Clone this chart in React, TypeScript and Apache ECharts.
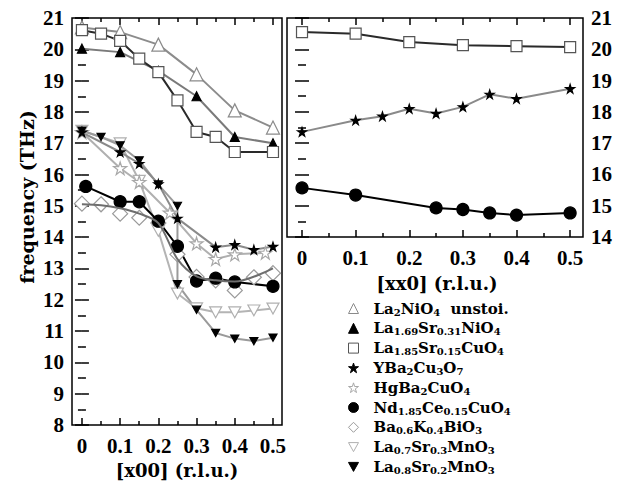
import React, { useEffect, useRef } from 'react';
import * as echarts from 'echarts';

// ---------- data ----------
const xMajor = [0, 0.1, 0.2, 0.3, 0.4, 0.5];
const xMinor = [0.05, 0.15, 0.25, 0.35, 0.45];

const NAMES = [
  'La2NiO4 unstoi.',
  'La1.69Sr0.31NiO4',
  'La1.85Sr0.15CuO4',
  'YBa2Cu3O7',
  'HgBa2CuO4',
  'Nd1.85Ce0.15CuO4',
  'Ba0.6K0.4BiO3',
  'La0.7Sr0.3MnO3',
  'La0.8Sr0.2MnO3',
];
const RICH_NAMES = [
  '{m|La}{s|2}{m|NiO}{s|4}{m|  unstoi.}',
  '{m|La}{s|1.69}{m|Sr}{s|0.31}{m|NiO}{s|4}',
  '{m|La}{s|1.85}{m|Sr}{s|0.15}{m|CuO}{s|4}',
  '{m|YBa}{s|2}{m|Cu}{s|3}{m|O}{s|7}',
  '{m|HgBa}{s|2}{m|CuO}{s|4}',
  '{m|Nd}{s|1.85}{m|Ce}{s|0.15}{m|CuO}{s|4}',
  '{m|Ba}{s|0.6}{m|K}{s|0.4}{m|BiO}{s|3}',
  '{m|La}{s|0.7}{m|Sr}{s|0.3}{m|MnO}{s|3}',
  '{m|La}{s|0.8}{m|Sr}{s|0.2}{m|MnO}{s|3}',
];

// left panel [x00]
const la2NiX = [0, 0.1, 0.2, 0.3, 0.4, 0.5];
const la2NiY = [20.7, 20.55, 20.15, 19.2, 18.05, 17.5];
const la169X = [0, 0.1, 0.2, 0.3, 0.4, 0.5];
const la169Y = [20.02, 19.91, 19.31, 18.5, 17.2, 17.0];
const la185X = [0, 0.05, 0.1, 0.15, 0.2, 0.25, 0.3, 0.35, 0.4, 0.5];
const la185Y = [20.61, 20.5, 20.27, 19.7, 19.27, 18.37, 17.36, 17.2, 16.72, 16.72];
const ybcoX = [0, 0.1, 0.15, 0.2, 0.25, 0.35, 0.4, 0.45, 0.5];
const ybcoY = [17.35, 16.72, 16.35, 15.7, 14.6, 13.68, 13.76, 13.6, 13.7];
const hgX = [0, 0.1, 0.15, 0.23, 0.3, 0.35, 0.4, 0.48];
const hgY = [17.35, 16.2, 15.76, 14.78, 13.8, 13.3, 13.45, 13.5];
const ndX = [0.01, 0.1, 0.15, 0.2, 0.25, 0.3, 0.35, 0.4, 0.5];
const ndY = [15.62, 15.13, 15.13, 14.51, 13.71, 12.6, 12.69, 12.57, 12.43];
const bkX = [0, 0.05, 0.1, 0.15, 0.2, 0.25, 0.3, 0.35, 0.4, 0.45, 0.5];
const bkY = [15.07, 15.05, 14.75, 14.62, 14.45, 13.45, 12.73, 12.62, 12.3, 12.72, 12.85];
const bkFitX = [0, 0.05, 0.1, 0.15, 0.2, 0.25, 0.3, 0.35, 0.4, 0.5];
const bkFitY = [15.05, 15.02, 14.92, 14.75, 14.45, 13.3, 12.75, 12.62, 12.58, 13.0];
const la07X = [0, 0.1, 0.15, 0.2, 0.25, 0.3, 0.35, 0.4, 0.45, 0.5];
const la07Y = [17.4, 17.0, 15.8, 14.2, 12.2, 11.73, 11.6, 11.6, 11.66, 11.72];
const la08X = [0, 0.05, 0.1, 0.15, 0.2, 0.25, 0.25, 0.3, 0.35, 0.4, 0.45, 0.5];
const la08Y = [17.4, 17.2, 16.93, 16.45, 15.68, 15.0, 12.5, 11.68, 10.94, 10.76, 10.68, 10.79];

// right panel [xx0]
const la185RX = [0, 0.1, 0.2, 0.3, 0.4, 0.5];
const la185RY = [20.55, 20.5, 20.23, 20.13, 20.1, 20.07];
const ybcoRX = [0, 0.1, 0.15, 0.2, 0.25, 0.3, 0.35, 0.4, 0.5];
const ybcoRY = [17.36, 17.73, 17.86, 18.1, 17.95, 18.16, 18.56, 18.42, 18.74];
const ndRX = [0, 0.1, 0.25, 0.3, 0.35, 0.4, 0.5];
const ndRY = [15.57, 15.34, 14.93, 14.88, 14.77, 14.7, 14.77];

// ---------- styling ----------
const STAR = 'path://M50,2 L61,37 L98,37 L68,59 L79,95 L50,73 L21,95 L32,59 L2,37 L39,37 Z';
const DOWN = 'path://M0,0 L20,0 L10,18 Z';
const SERIF = 'DejaVu Serif';
const NUMF = 'Liberation Serif';

type Sty = { symbol: string; size: number; fill: string; border: string; line: string };
const STY: Sty[] = [
  { symbol: 'triangle', size: 13, fill: '#fff', border: '#8a8a8a', line: '#8c8c8c' },
  { symbol: 'triangle', size: 9, fill: '#000', border: '#000', line: '#7a7a7a' },
  { symbol: 'rect', size: 11, fill: '#fff', border: '#555', line: '#2a2a2a' },
  { symbol: STAR, size: 9, fill: '#000', border: '#000', line: '#8a8a8a' },
  { symbol: STAR, size: 13, fill: '#fff', border: '#a8a8a8', line: '#b0b0b0' },
  { symbol: 'circle', size: 12, fill: '#000', border: '#000', line: '#000' },
  { symbol: 'diamond', size: 15, fill: '#fff', border: '#9a9a9a', line: '#6e6e6e' },
  { symbol: DOWN, size: 12, fill: '#fff', border: '#b0b0b0', line: '#b4b4b4' },
  { symbol: DOWN, size: 8, fill: '#000', border: '#000', line: '#9a9a9a' },
];

function zip(xs: number[], ys: number[]) {
  return xs.map((x, i) => [x, ys[i]]);
}

function mk(idx: number, xs: number[], ys: number[], panel: 0 | 1, showLine = true, name?: string) {
  const s = STY[idx];
  return {
    type: 'line',
    name: name ?? NAMES[idx],
    xAxisIndex: panel === 0 ? 0 : 4,
    yAxisIndex: panel === 0 ? 0 : 2,
    data: zip(xs, ys),
    symbol: s.symbol,
    symbolSize: s.size,
    symbolKeepAspect: true,
    showSymbol: true,
    lineStyle: { color: s.line, width: showLine ? 2 : 0, opacity: showLine ? 1 : 0 },
    itemStyle: { color: s.fill, borderColor: s.border, borderWidth: 1.2 },
    emphasis: { disabled: true },
    silent: true,
    z: 2,
  };
}

function fitLine(idx: number, xs: number[], ys: number[]) {
  const s = STY[idx];
  return {
    type: 'line',
    name: 'fit-' + idx,
    xAxisIndex: 0,
    yAxisIndex: 0,
    data: zip(xs, ys),
    symbol: 'none',
    smooth: 0.3,
    lineStyle: { color: s.line, width: 2 },
    silent: true,
    z: 3,
  };
}

const tickStyle = { color: '#000', width: 1.5 };

function xAxes(grid: number, min: number, max: number) {
  const base = { type: 'value', gridIndex: grid, min, max, axisLine: { show: false }, splitLine: { show: false } };
  return [
    {
      ...base,
      position: 'bottom',
      axisTick: { show: true, inside: true, length: 7, lineStyle: tickStyle, customValues: xMajor },
      axisLabel: {
        show: true,
        customValues: xMajor,
        margin: 10,
        fontFamily: NUMF,
        fontWeight: 'bold',
        fontSize: 21,
        color: '#000',
        formatter: (v: number) => (Math.abs(v) < 1e-9 ? '0' : (Math.round(v * 10) / 10).toFixed(1)),
      },
    },
    {
      ...base,
      position: 'bottom',
      axisTick: { show: true, inside: true, length: 4, lineStyle: tickStyle, customValues: xMinor },
      axisLabel: { show: false },
    },
    {
      ...base,
      position: 'top',
      axisTick: { show: true, inside: true, length: 7, lineStyle: tickStyle, customValues: xMajor },
      axisLabel: { show: false },
    },
    {
      ...base,
      position: 'top',
      axisTick: { show: true, inside: true, length: 4, lineStyle: tickStyle, customValues: xMinor },
      axisLabel: { show: false },
    },
  ];
}

function yAxes(grid: number, min: number, max: number, labelSide: 'left' | 'right') {
  const other = labelSide === 'left' ? 'right' : 'left';
  const base = {
    type: 'value',
    gridIndex: grid,
    min,
    max,
    interval: 1,
    axisLine: { show: false },
    splitLine: { show: false },
    axisTick: { show: true, inside: true, length: 7, lineStyle: tickStyle },
    minorTick: { show: true, splitNumber: 2, length: 4, lineStyle: tickStyle },
    minorSplitLine: { show: false },
  };
  return [
    {
      ...base,
      position: labelSide,
      axisLabel: {
        show: true,
        margin: 8,
        fontFamily: NUMF,
        fontWeight: 'bold',
        fontSize: 21,
        color: '#000',
      },
    },
    { ...base, position: other, axisLabel: { show: false } },
  ];
}

export default function App() {
  const ref = useRef<HTMLDivElement>(null);

  useEffect(() => {
    if (!ref.current) return;
    const chart = echarts.init(ref.current, null, { renderer: 'svg' });

    const legendData = NAMES.map((n, i) => ({
      name: n,
      icon: STY[i].symbol,
      itemStyle: { color: STY[i].fill, borderColor: STY[i].border, borderWidth: 1 },
    }));

    const option: any = {
      animation: false,
      backgroundColor: '#fff',
      grid: [
        { left: 72, top: 18, width: 210, height: 407, show: true, borderColor: '#000', borderWidth: 1.5, backgroundColor: 'transparent' },
        { left: 287, top: 18, width: 296, height: 219, show: true, borderColor: '#000', borderWidth: 1.5, backgroundColor: 'transparent' },
      ],
      xAxis: [...xAxes(0, -0.026, 0.5236), ...xAxes(1, -0.028, 0.524)],
      yAxis: [...yAxes(0, 8, 21, 'left'), ...yAxes(1, 14, 21, 'right')],
      legend: {
        show: true,
        orient: 'vertical',
        left: 343,
        top: 296,
        itemWidth: 10,
        itemHeight: 10,
        itemGap: 3.8,
        selectedMode: false,
        data: legendData,
        formatter: (name: string) => RICH_NAMES[NAMES.indexOf(name)] ?? name,
        textStyle: {
          color: '#000',
          fontFamily: SERIF,
          fontWeight: 'bold',
          fontSize: 15,
          padding: [0, 0, 0, 10],
          rich: {
            m: { fontFamily: SERIF, fontWeight: 'bold', fontSize: 15, lineHeight: 17, color: '#000' },
            s: { fontFamily: SERIF, fontWeight: 'bold', fontSize: 10, lineHeight: 5, verticalAlign: 'bottom', color: '#000' },
          },
        },
      },
      graphic: [
        {
          type: 'text',
          x: 27,
          y: 197,
          rotation: Math.PI / 2,
          silent: true,
          style: {
            text: 'frequency (THz)',
            fontFamily: SERIF,
            fontWeight: 'bold',
            fontSize: 19,
            fill: '#000',
            align: 'center',
            verticalAlign: 'middle',
          },
        },
        {
          type: 'text',
          x: 177,
          y: 470,
          silent: true,
          style: {
            text: '[x00] (r.l.u.)',
            fontFamily: SERIF,
            fontWeight: 'bold',
            fontSize: 18,
            fill: '#000',
            align: 'center',
            verticalAlign: 'middle',
          },
        },
        {
          type: 'text',
          x: 437,
          y: 283,
          silent: true,
          style: {
            text: '[xx0] (r.l.u.)',
            fontFamily: SERIF,
            fontWeight: 'bold',
            fontSize: 18,
            fill: '#000',
            align: 'center',
            verticalAlign: 'middle',
          },
        },
      ],
      series: [
        mk(0, la2NiX, la2NiY, 0),
        mk(1, la169X, la169Y, 0),
        mk(2, la185X, la185Y, 0),
        mk(6, bkX, bkY, 0, false),
        fitLine(6, bkFitX, bkFitY),
        mk(7, la07X, la07Y, 0),
        mk(4, hgX, hgY, 0),
        mk(8, la08X, la08Y, 0),
        mk(3, ybcoX, ybcoY, 0),
        mk(5, ndX, ndY, 0),
        mk(2, la185RX, la185RY, 1),
        mk(3, ybcoRX, ybcoRY, 1),
        mk(5, ndRX, ndRY, 1),
      ],
    };

    chart.setOption(option);
    return () => chart.dispose();
  }, []);

  return (
    <div
      ref={ref}
      style={{ position: 'fixed', left: 0, top: 0, width: 625, height: 485, background: '#fff' }}
    />
  );
}
